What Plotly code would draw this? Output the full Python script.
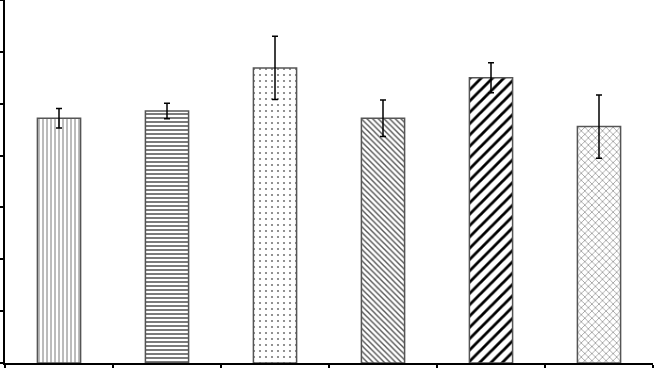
import plotly.graph_objects as go

# Data
groups = ["A", "B", "C", "D", "E", "F"]
means = [4.72, 4.86, 5.69, 4.72, 5.50, 4.56]
errors = [0.19, 0.15, 0.61, 0.35, 0.29, 0.61]
y_ticks = [0, 1, 2, 3, 4, 5, 6, 7]

positions = [i + 0.5 for i in range(len(groups))]

fig = go.Figure()
fig.add_trace(go.Bar(
    x=positions,
    y=means,
    width=0.4,
    marker=dict(
        color="white",
        line=dict(color="#555555", width=1.5),
        pattern=dict(
            shape=["|", "-", ".", "\\", "/", "x"],
            fgcolor=["#555555", "#222222", "#777777", "#555555", "#000000", "#666666"],
            bgcolor="white",
            fgopacity=1,
            size=[4, 4, 6, 4, 8, 5],
            solidity=[0.2, 0.3, 0.1, 0.35, 0.35, 0.2],
            fillmode="overlay",
        ),
    ),
    error_y=dict(type="data", array=errors, visible=True,
                 color="black", thickness=1.5, width=3),
    hoverinfo="skip",
))

fig.update_layout(
    width=654, height=368,
    margin=dict(l=5, r=1, t=0, b=5),
    plot_bgcolor="white", paper_bgcolor="white",
    showlegend=False,
    bargap=0.6,
)
fig.update_xaxes(
    range=[0, len(groups)],
    tickvals=list(range(len(groups) + 1)),
    showticklabels=False,
    ticks="outside", ticklen=5, tickcolor="black", tickwidth=1.5,
    showline=True, linecolor="black", linewidth=1.5,
    showgrid=False, zeroline=False,
)
fig.update_yaxes(
    range=[0, 7],
    tickvals=y_ticks,
    showticklabels=False,
    ticks="outside", ticklen=5, tickcolor="black", tickwidth=1.5,
    showline=True, linecolor="black", linewidth=1.5,
    showgrid=False, zeroline=False,
)

fig.write_html("out.html", config={"displayModeBar": False},
               post_script="document.body.style.margin='0';")
